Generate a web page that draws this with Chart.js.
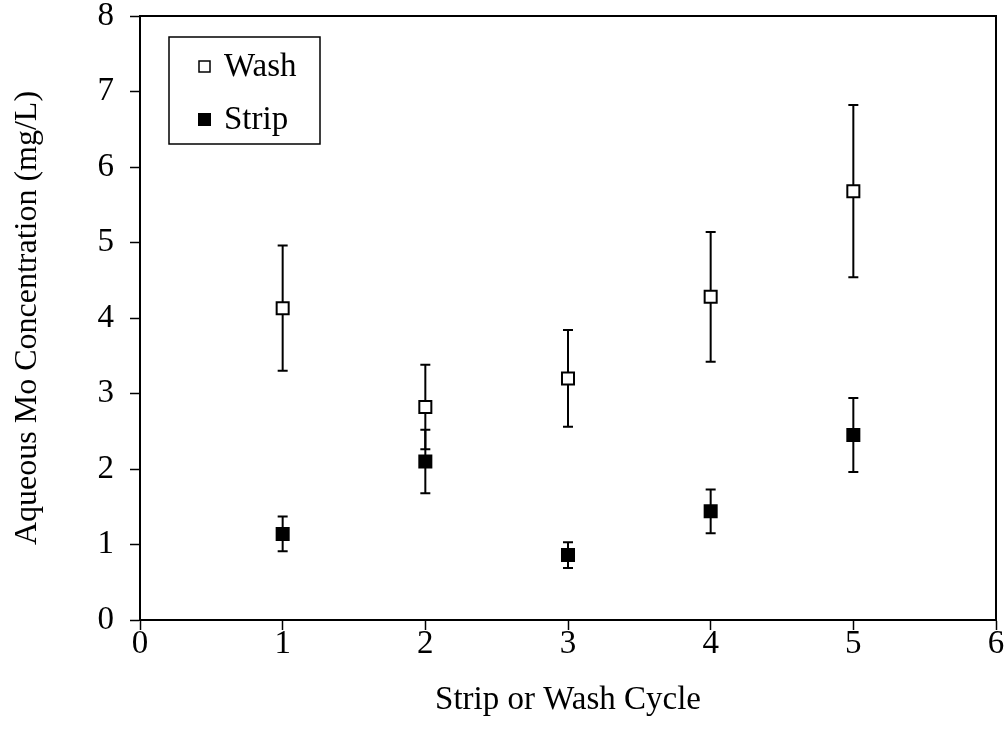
<!DOCTYPE html>
<html>
<head>
<meta charset="utf-8">
<script src="https://cdn.jsdelivr.net/npm/chart.js@4.4.0/dist/chart.umd.min.js"></script>
<style>
  html, body { margin: 0; padding: 0; background: #fff; }
  #wrap { width: 1007px; height: 740px; }
</style>
</head>
<body>
<div id="wrap"><canvas id="myChart"></canvas></div>
<script>
// cycles on the x axis
const cycles = [1, 2, 3, 4, 5]

// wash series, mean and +/- error
const washValues = [4.13, 2.82, 3.20, 4.28, 5.68]
const washErrors = [0.83, 0.56, 0.64, 0.86, 1.14]

// strip series, mean and +/- error
const stripValues = [1.14, 2.10, 0.86, 1.44, 2.45]
const stripErrors = [0.23, 0.42, 0.17, 0.29, 0.49]

const fontFamily = '"Liberation Serif", "Times New Roman", serif'
const fontSize = 33

function toPoints(values){
    return cycles.map((c, i) => ({x: c, y: values[i]}))
}

// error bars, drawn behind the markers
const errorBars = {
    id: 'errorBars',
    beforeDatasetsDraw(chart){
        const {ctx, scales: {x, y}} = chart
        const sets = [
            {values: washValues, errors: washErrors},
            {values: stripValues, errors: stripErrors}
        ]
        ctx.save()
        ctx.strokeStyle = '#000'
        ctx.lineWidth = 2
        sets.forEach(s => {
            cycles.forEach((c, i) => {
                const px = x.getPixelForValue(c)
                const top = y.getPixelForValue(s.values[i] + s.errors[i])
                const bot = y.getPixelForValue(s.values[i] - s.errors[i])
                ctx.beginPath()
                ctx.moveTo(px, top); ctx.lineTo(px, bot)
                ctx.moveTo(px - 5, top); ctx.lineTo(px + 5, top)
                ctx.moveTo(px - 5, bot); ctx.lineTo(px + 5, bot)
                ctx.stroke()
            })
        })
        ctx.restore()
    }
}

// top and right side of the frame, plus the legend box in the plot
const frameAndLegend = {
    id: 'frameAndLegend',
    afterDraw(chart){
        const {ctx, chartArea: a} = chart
        ctx.save()
        ctx.strokeStyle = '#000'
        ctx.lineWidth = 2
        ctx.beginPath()
        ctx.moveTo(a.left, a.top); ctx.lineTo(a.right, a.top); ctx.lineTo(a.right, a.bottom)
        ctx.stroke()

        // legend
        const lx = a.left + 29, ly = a.top + 21
        ctx.lineWidth = 1.5
        ctx.strokeRect(lx, ly, 151, 107)
        ctx.font = fontSize + 'px ' + fontFamily
        ctx.textBaseline = 'middle'
        ctx.fillStyle = '#fff'
        ctx.fillRect(lx + 30, ly + 24, 11, 11)
        ctx.strokeRect(lx + 30, ly + 24, 11, 11)
        ctx.fillStyle = '#000'
        ctx.fillRect(lx + 29, ly + 76, 13, 13)
        ctx.fillText('Wash', lx + 55, ly + 30)
        ctx.fillText('Strip', lx + 55, ly + 83)
        ctx.restore()
    }
}

const canvas = document.getElementById('myChart')

const config = {
    type: 'scatter',
    data: {
        datasets: [
            {
                label: 'Wash',
                data: toPoints(washValues),
                pointStyle: 'rect',
                pointRadius: 8.5,
                pointHoverRadius: 8.5,
                backgroundColor: '#fff',
                borderColor: '#000',
                borderWidth: 2
            },
            {
                label: 'Strip',
                data: toPoints(stripValues),
                pointStyle: 'rect',
                pointRadius: 8.5,
                pointHoverRadius: 8.5,
                backgroundColor: '#000',
                borderColor: '#000',
                borderWidth: 2
            }
        ]
    },
    options: {
        responsive: true,
        maintainAspectRatio: false,
        animation: false,
        layout: {
            padding: {left: 0, right: 11, top: 16, bottom: 0}
        },
        plugins: {
            legend: {display: false},
            tooltip: {enabled: false}
        },
        scales: {
            x: {
                type: 'linear',
                min: 0,
                max: 6,
                ticks: {stepSize: 1, color: '#000', padding: -5, font: {family: fontFamily, size: fontSize}},
                grid: {display: true, drawOnChartArea: false, drawTicks: true, tickLength: 10, color: '#000', tickWidth: 1.5},
                border: {display: true, color: '#000', width: 2},
                title: {display: true, text: 'Strip or Wash Cycle', color: '#000', font: {family: fontFamily, size: fontSize}, padding: {top: 0, bottom: 20}},
                afterFit(scale){
                    scale.height = 120
                    scale.paddingLeft = 0
                    scale.paddingRight = 0
                }
            },
            y: {
                type: 'linear',
                min: 0,
                max: 8,
                ticks: {stepSize: 1, color: '#000', padding: 16, font: {family: fontFamily, size: fontSize}},
                grid: {display: true, drawOnChartArea: false, drawTicks: true, tickLength: 10, color: '#000', tickWidth: 1.5},
                border: {display: true, color: '#000', width: 2},
                title: {display: true, text: 'Aqueous Mo Concentration (mg/L)', color: '#000', font: {family: fontFamily, size: 32}, padding: {top: 8, bottom: 0}},
                afterFit(scale){
                    scale.width = 140
                    scale.paddingTop = 0
                    scale.paddingBottom = 0
                }
            }
        }
    },
    plugins: [errorBars, frameAndLegend]
}

const myChart = new Chart(canvas, config)
</script>
</body>
</html>
